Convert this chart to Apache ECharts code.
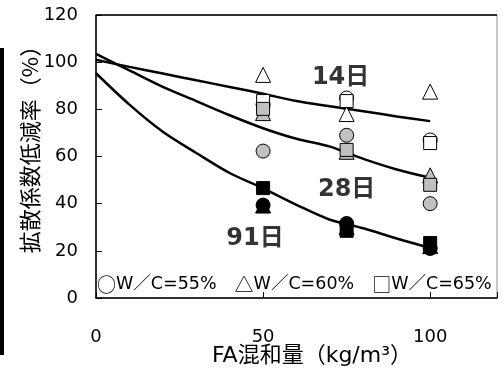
<!DOCTYPE html>
<html><head><meta charset="utf-8">
<script src="https://cdn.jsdelivr.net/npm/echarts@6/dist/echarts.min.js"></script>
<style>html,body{margin:0;padding:0;background:#fff}#c{width:504px;height:383px}</style>
</head><body><div id="c"></div>
<script>
// FA amount categories (x values)
const faAmount = [50, 75, 100];
// Fitted curve sample x positions
const curveX = [0, 10, 20, 30, 40, 50, 60, 70, 80, 90, 100];
const curve14 = [101, 98, 95.2, 92.3, 89.5, 86.6, 83.5, 81.3, 79.2, 77, 75];
const curve28 = [103.5, 96.5, 89.5, 83.5, 77.5, 72, 67.5, 64.2, 59, 54.5, 51];
const curve91 = [95.3, 82, 70.5, 61.5, 53, 46.5, 39.5, 33.2, 29.6, 25.2, 21.2];
// Measured points: [W/C 55% circle, 60% triangle, 65% square] per age
const d14_circle = [82, 84.8, 67];
const d14_triangle = [94.6, 78, 87.5];
const d14_square = [83.5, 83.5, 65.7];
const d28_circle = [62.3, 69, 40];
const d28_triangle = [78.4, 62, 52];
const d28_square = [80.2, 62.8, 48];
const d91_circle = [39.4, 31.6, 21];
const d91_triangle = [39.2, 30, 22];
const d91_square = [46.6, 28.5, 23.3];
const ageLabels = [[73.2, 93.3, '14日'], [75, 45.8, '28日'], [47.6, 25, '91日']];
const yTicks = [0, 20, 40, 60, 80, 100, 120];
const xTicks = [0, 50, 100];
const legendItems = [['○', 'W／C=55%'], ['△', 'W／C=60%'], ['□', 'W／C=65%']];
const xName = 'FA混和量（kg/m³）';
const yName = '拡散係数低減率（%）';

const pair = (xs, ys) => xs.map((x, i) => [x, ys[i]]);
const tri = 'path://M0,-10L8.66,5H-8.66Z';
function pts(name, ys, symbol, fill, size) {
  return { name, type: 'scatter', data: pair(faAmount, ys), symbol, symbolSize: size,
    itemStyle: { color: fill, borderColor: '#000', borderWidth: 1, opacity: 1 }, z: 3 };
}
function curve(ys) {
  return { type: 'line', data: pair(curveX, ys), smooth: 0.3, showSymbol: false, symbol: 'none',
    lineStyle: { color: '#000', width: 2.5 }, z: 2, silent: true };
}
const W = '#ffffff', G = '#c0c0c0', B = '#000000';
const NUMF = 'DejaVu Sans, Noto Sans CJK JP';
const legendRich = legendItems.map(it => '{s|' + it[0] + '}{t|' + it[1] + '}').join('{g|　}');
const chart = echarts.init(document.getElementById('c'), null, { renderer: 'canvas' });
chart.setOption({
  animation: false,
  grid: { left: 96, right: 7, top: 15, bottom: 85, show: true, borderColor: '#888', borderWidth: 1 },
  xAxis: { type: 'value', min: 0, max: 120, interval: 50,
    axisLine: { onZero: false, lineStyle: { color: '#000', width: 1.5 } },
    axisTick: { inside: true, length: 6, lineStyle: { color: '#000' } },
    splitLine: { show: false },
    axisLabel: { margin: 30, fontSize: 18, color: '#000', fontFamily: NUMF,
      formatter: v => xTicks.includes(v) ? String(v) : '' } },
  yAxis: { type: 'value', min: 0, max: 120, interval: 20,
    axisLine: { show: true, lineStyle: { color: '#000', width: 1.5 } },
    axisTick: { show: true, inside: true, length: 6, lineStyle: { color: '#000' } },
    splitLine: { show: false },
    axisLabel: { margin: 18, fontSize: 18, color: '#000', fontFamily: NUMF,
      formatter: v => yTicks.includes(v) ? String(v) : '' } },
  graphic: [
    { type: 'rect', left: 0, top: 48, shape: { width: 4, height: 307 }, style: { fill: '#000' } },
    { type: 'line', shape: { x1: 96, y1: 15, x2: 497, y2: 15 }, style: { stroke: '#000', lineWidth: 1.5 } },
    { type: 'text', left: 97, top: 275, style: { text: legendRich, fill: '#000',
      rich: { s: { fontSize: 19, fontFamily: 'Noto Sans CJK JP' },
              t: { fontSize: 17.5, fontFamily: NUMF },
              g: { fontSize: 18, fontFamily: 'Noto Sans CJK JP' } } } },
    { type: 'text', x: 312, y: 356, style: { text: xName, fontSize: 22, fill: '#000', fontFamily: NUMF,
      textAlign: 'center', textVerticalAlign: 'middle' } },
    { type: 'text', x: 30, y: 144, rotation: Math.PI / 2, style: { text: yName, fontSize: 22, fill: '#000',
      fontFamily: 'Noto Sans CJK JP', textAlign: 'center', textVerticalAlign: 'middle' } }
  ],
  series: [
    curve(curve14), curve(curve28), curve(curve91),
    pts('14c', d14_circle, 'circle', W, 14),
    pts('14t', d14_triangle, tri, W, 15),
    pts('14s', d14_square, 'rect', W, 13),
    pts('28t', d28_triangle, tri, G, 15),
    pts('28c', d28_circle, 'circle', G, 14),
    pts('28s', d28_square, 'rect', G, 13),
    pts('91t', d91_triangle, tri, B, 15),
    pts('91c', d91_circle, 'circle', B, 14),
    pts('91s', d91_square, 'rect', B, 13),
    { type: 'scatter', data: ageLabels, symbolSize: 0, silent: true, z: 5,
      label: { show: true, position: 'inside', formatter: p => p.value[2], fontSize: 24, fontWeight: 'bold',
        color: '#000', fontFamily: NUMF } }
  ]
});
</script></body></html>
